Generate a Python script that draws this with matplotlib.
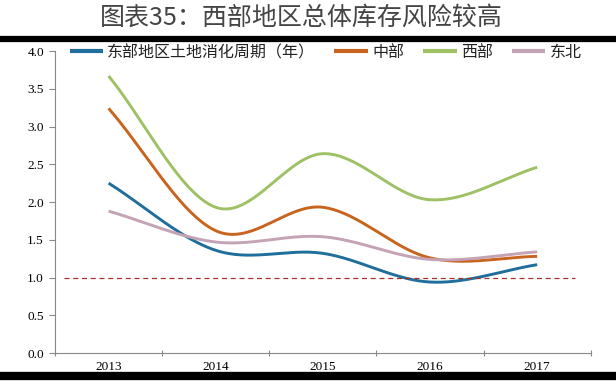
import matplotlib
matplotlib.use("Agg")
import matplotlib.pyplot as plt
import numpy as np

plt.rcParams['font.family'] = ['Noto Sans CJK SC', 'DejaVu Sans']

# 数据
years = ['2013', '2014', '2015', '2016', '2017']
east = [2.25, 1.36, 1.32, 0.94, 1.17]
central = [3.24, 1.62, 1.93, 1.26, 1.28]
west = [3.67, 1.93, 2.64, 2.03, 2.46]
northeast = [1.88, 1.47, 1.54, 1.24, 1.34]
labels = ['东部地区土地消化周期（年）', '中部', '西部', '东北']
colors = ['#1f6e9b', '#c8641e', '#9dc164', '#c4a3b5']
yticks = [0.0, 0.5, 1.0, 1.5, 2.0, 2.5, 3.0, 3.5, 4.0]


# Excel 风格的平滑曲线 (Catmull-Rom)
def smooth(x, y, n=40):
    x = np.asarray(x, float)
    y = np.asarray(y, float)
    px = np.concatenate([[2 * x[0] - x[1]], x, [2 * x[-1] - x[-2]]])
    py = np.concatenate([[2 * y[0] - y[1]], y, [2 * y[-1] - y[-2]]])
    xs, ys = [], []
    t = np.linspace(0, 1, n)
    for i in range(1, len(px) - 2):
        p0, p1, p2, p3 = py[i - 1], py[i], py[i + 1], py[i + 2]
        q0, q1, q2, q3 = px[i - 1], px[i], px[i + 1], px[i + 2]
        # 贝塞尔控制点
        c1y, c2y = p1 + (p2 - p0) / 6, p2 - (p3 - p1) / 6
        c1x, c2x = q1 + (q2 - q0) / 6, q2 - (q3 - q1) / 6
        bx = (1 - t) ** 3 * q1 + 3 * (1 - t) ** 2 * t * c1x + 3 * (1 - t) * t ** 2 * c2x + t ** 3 * q2
        by = (1 - t) ** 3 * p1 + 3 * (1 - t) ** 2 * t * c1y + 3 * (1 - t) * t ** 2 * c2y + t ** 3 * p2
        xs.extend(bx)
        ys.extend(by)
    return np.array(xs), np.array(ys)


fig = plt.figure(figsize=(6.16, 3.85), dpi=100)
ax = fig.add_axes([0.0893, 0.0831, 0.8697, 0.7844])

x = np.arange(len(years))
for data, label, color in zip([east, central, west, northeast], labels, colors):
    sx, sy = smooth(x, data)
    ax.plot(sx, sy, color=color, lw=2.1, label=label, solid_capstyle='butt')

# 1.0 参考线
ax.plot([-0.42, 4.35], [1.0, 1.0], color='#a83228', lw=0.9, dashes=(4, 3))

ax.set_xlim(-0.5, 4.5)
ax.set_ylim(0, 4)
ax.set_yticks(yticks)
ax.set_yticklabels(['%.1f' % v for v in yticks], fontfamily='Liberation Serif', fontsize=9.5)
ax.set_xticks(np.arange(-0.5, 4.6, 1.0))
ax.set_xticklabels([])
ax.set_xticks(x, minor=True)
ax.set_xticklabels(years, minor=True, fontfamily='Liberation Serif', fontsize=9.5)
ax.tick_params(axis='x', which='minor', length=0, pad=6)
ax.tick_params(axis='x', which='major', length=4, direction='inout', color='#888888')
ax.tick_params(axis='y', length=4, direction='out', color='#888888', pad=4)
for s in ['top', 'right']:
    ax.spines[s].set_visible(False)
for s in ['left', 'bottom']:
    ax.spines[s].set_color('#888888')

leg = ax.legend(loc='center', bbox_to_anchor=(0.505, 0.995), ncol=4, frameon=False,
                fontsize=11.5, handlelength=2.1, columnspacing=1.2, handletextpad=0.25,
                borderpad=0, borderaxespad=0)
for line in leg.get_lines():
    line.set_linewidth(3)
for txt in leg.get_texts():
    txt.set_color('#222222')

# 标题与上下粗线
fig.text(0.49, 0.955, '图表35：西部地区总体库存风险较高', ha='center', va='center',
         fontsize=18, color='#444444')
fig.add_artist(plt.Line2D([0.0, 1.0], [0.899, 0.899], color='black', lw=4.5))
fig.add_artist(plt.Line2D([0.0, 1.0], [0.024, 0.024], color='black', lw=6))

fig.savefig('out.png', dpi=100)
